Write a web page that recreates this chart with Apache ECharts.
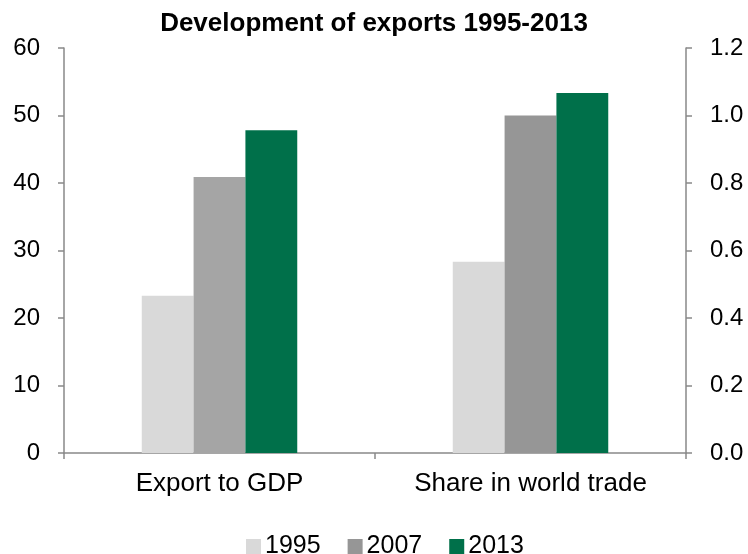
<!DOCTYPE html>
<html>
<head>
<meta charset="utf-8">
<script src="https://cdn.jsdelivr.net/npm/echarts@6/dist/echarts.min.js"></script>
<style>
  html, body { margin: 0; padding: 0; background: #fff; }
  #chart { width: 748px; height: 554px; }
</style>
</head>
<body>
<div id="chart"></div>
<script>
// categories and series values
var categories = ['Export to GDP', 'Share in world trade'];
var years = ['1995', '2007', '2013'];
var exportToGdp = [23.3, 40.9, 47.8];        // left axis
var worldShare = [0.567, 1.0, 1.067];        // right axis
var leftTicks = [0, 60, 10];
var rightTicks = [0, 1.2, 0.2];

var colors = ['#D9D9D9', '#969696', '#00704A'];
var leftColors = ['#D9D9D9', '#A5A5A5', '#00704A'];

var font = 'Liberation Sans, Arial, sans-serif';
var axisGray = '#898989';

var chart = echarts.init(document.getElementById('chart'));

var series = [];
// right axis series first so legend picks their colours
years.forEach(function (y, i) {
    series.push({
        name: y,
        type: 'bar',
        xAxisIndex: 1,
        yAxisIndex: 1,
        barGap: 0,
        barCategoryGap: '50%',
        itemStyle: { color: colors[i] },
        data: ['-', worldShare[i]]
    });
});
years.forEach(function (y, i) {
    series.push({
        name: y,
        type: 'bar',
        xAxisIndex: 0,
        yAxisIndex: 0,
        barGap: 0,
        barCategoryGap: '50%',
        itemStyle: { color: leftColors[i] },
        data: [exportToGdp[i], '-']
    });
});

chart.setOption({
    backgroundColor: '#fff',
    animation: false,
    title: {
        text: 'Development of exports 1995-2013',
        left: 'center',
        top: 6,
        textStyle: { fontFamily: font, fontSize: 26, fontWeight: 'bold', color: '#000' }
    },
    legend: {
        data: years,
        left: 241,
        top: 529,
        itemWidth: 15,
        itemHeight: 15,
        itemGap: 27,
        icon: 'rect',
        textStyle: { fontFamily: font, fontSize: 25, color: '#000', padding: [0, 0, 0, -1] }
    },
    grid: { left: 64, right: 62, top: 48, bottom: 101 },
    xAxis: [{
        type: 'category',
        data: categories,
        axisLine: { lineStyle: { color: axisGray, width: 1.5 } },
        axisTick: { show: true, length: 6, lineStyle: { color: axisGray, width: 1.5 } },
        axisLabel: { fontFamily: font, fontSize: 26, color: '#000', margin: 18 }
    }, {
        type: 'category',
        data: categories,
        show: false
    }],
    yAxis: [{
        type: 'value',
        min: leftTicks[0],
        max: leftTicks[1],
        interval: leftTicks[2],
        splitLine: { show: false },
        axisLine: { show: true, lineStyle: { color: axisGray, width: 1.5 } },
        axisTick: { show: true, length: 6, lineStyle: { color: axisGray, width: 1.5 } },
        axisLabel: { fontFamily: font, fontSize: 24, color: '#000', margin: 24 }
    }, {
        type: 'value',
        position: 'right',
        min: rightTicks[0],
        max: rightTicks[1],
        interval: rightTicks[2],
        splitLine: { show: false },
        axisLine: { show: true, lineStyle: { color: axisGray, width: 1.5 } },
        axisTick: { show: true, length: 6, lineStyle: { color: axisGray, width: 1.5 } },
        axisLabel: {
            fontFamily: font, fontSize: 24, color: '#000', margin: 24,
            formatter: function (v) { return v.toFixed(1); }
        }
    }],
    series: series
});
</script>
</body>
</html>
